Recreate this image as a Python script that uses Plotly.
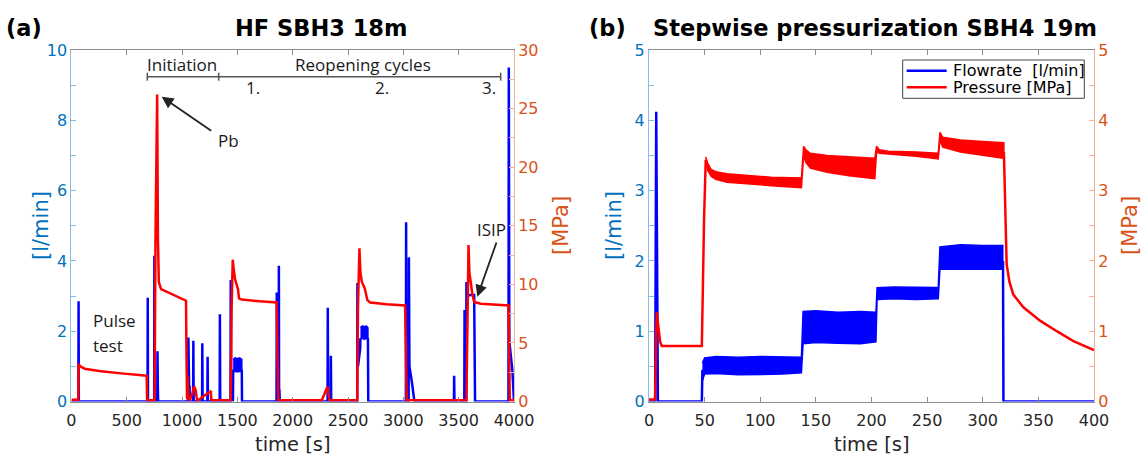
import plotly.graph_objects as go

W, H = 1144, 455

# ---------------- Panel (a): HF SBH3 18m ----------------
a_flow_t = [0, 63, 65, 67, 688, 690, 692, 748, 750, 753, 776, 778, 781, 784,
            1055, 1057, 1060, 1066, 1068, 1070, 1100, 1102, 1105, 1181, 1183, 1186,
            1229, 1231, 1234, 1340, 1342, 1345, 1438, 1440, 1443, 1460, 1462, None,
            1540, 1542, 1854, 1856, 1858, 1873, 1875, 1877, 1880, 1883,
            2315, 2317, 2320, 2343, 2345, 2348, 2583, 2585, 2590, 2610, 2612, None,
            2680, 2683, 3023, 3025, 3028, 3048, 3050, 3055, 3075, 3095, 3100,
            3457, 3459, 3462, 3551, 3553, 3556, 3568, 3570, 3575, 3590, 3640, 3648,
            3950, 3953, 3958, 3985, 3995, 4000]
a_flow_q = [0, 0, 2.85, 0, 0, 2.95, 0, 0, 4.15, 0, 0, 1.43, 0.4, 0,
            0, 1.82, 0, 0, 0.45, 0, 0, 1.73, 0, 0, 1.66, 0,
            0, 1.27, 0, 0, 2.48, 0, 0, 3.46, 0.9, 0, 0.9, None,
            0.9, 0, 0, 3.1, 0, 0, 3.86, 0, 0.35, 0,
            0, 2.67, 0, 0, 1.3, 0, 0, 3.37, 1.0, 1.5, 1.8, None,
            1.8, 0, 0, 5.1, 0, 0, 4.1, 1.0, 0.6, 0.2, 0,
            0, 0.73, 0, 0, 2.6, 0, 0, 3.4, 2.9, 3.03, 3.03, 0,
            0, 9.5, 1.7, 0.9, 0, 0]

# noisy flow plateaus (envelopes)
a_band1_t = [1462, 1480, 1500, 1520, 1540]
a_band1_hi = [1.20, 1.24, 1.22, 1.24, 1.20]
a_band1_lo = [0.85, 0.86, 0.84, 0.86, 0.85]
a_band2_t = [2612, 2630, 2650, 2665, 2680]
a_band2_hi = [2.10, 2.15, 2.13, 2.15, 2.10]
a_band2_lo = [1.78, 1.80, 1.77, 1.80, 1.78]

a_pres_t = [0, 62, 66, 80, 120, 250, 450, 680, 684,
            752, 760, 775, 782, 790, 810, 900, 1000, 1036, 1040, 1045, 1050, 1058,
            1070, 1090, 1110, 1125, 1135, 1160, 1200, 1260, 1265,
            1440, 1448, 1458, 1468, 1478, 1495, 1505, 1515, 1540, 1700, 1856, 1862, 1870,
            2263, 2290, 2314, 2332,
            2583, 2590, 2603, 2612, 2625, 2650, 2662, 2675, 2700, 2850, 3016, 3022, 3030,
            3570, 3578, 3589, 3597, 3610, 3625, 3640, 3700, 3951, 3957, 3962, 4000]
a_pres_p = [0.15, 0.15, 3.2, 3.0, 2.8, 2.6, 2.4, 2.2, 0.1,
            0.1, 14, 26.2, 14, 10.2, 9.6, 9.2, 8.8, 8.6, 4.0, 0.2, 2.2, 0.3,
            0.1, 0.6, 1.3, 0.9, 0.1, 0.2, 0.5, 0.9, 0.1,
            0.1, 8, 12.1, 11.2, 10.5, 9.9, 9.6, 8.8, 8.7, 8.55, 8.45, 4, 0.1,
            0.1, 0.7, 1.26, 0.1,
            0.1, 8, 13.07, 11, 10.2, 9.7, 9.3, 8.65, 8.45, 8.3, 8.2, 4, 0.1,
            0.1, 8, 13.35, 11, 10.1, 9.1, 8.5, 8.35, 8.2, 4, 0.1, 0.1]

a_xtick_vals = [0, 500, 1000, 1500, 2000, 2500, 3000, 3500, 4000]
a_xtick_text = ["0", "500", "1000", "1500", "2000", "2500", "3000", "3500", "4000"]
a_yl_vals = [0, 2, 4, 6, 8, 10]
a_yl_minor = [1, 3, 5, 7, 9]
a_yr_vals = [0, 5, 10, 15, 20, 25, 30]
a_yr_minor = [2.5, 7.5, 12.5, 17.5, 22.5, 27.5]

# ---------------- Panel (b): Stepwise pressurization SBH4 19m ----------------
b_flow_t = [0, 5.5, 6.5, 8, 47.5, 48, None, 318.2, 318.6, 400]
b_flow_q = [0, 0, 4.12, 0, 0, 0.45, None, 2.0, 0, 0]

b_fband_t = [48, 50, 60, 80, 100, 120, 137, 138.5, 150, 170, 190, 204,
             205, 220, 240, 260, 261.5, 280, 300, 318]
b_fband_hi = [0.55, 0.62, 0.64, 0.63, 0.64, 0.63, 0.63, 1.28, 1.29, 1.27, 1.28, 1.27,
              1.62, 1.63, 1.62, 1.62, 2.20, 2.23, 2.22, 2.22]
b_fband_lo = [0.30, 0.39, 0.40, 0.38, 0.39, 0.39, 0.41, 0.82, 0.84, 0.83, 0.82, 0.85,
              1.45, 1.46, 1.45, 1.46, 1.88, 1.89, 1.88, 1.88]

b_pres_t = [0, 5.5, 6.5, 7, 8.5, 10, 11.5, 47.5, 49.5, 51, None,
            319, 320.5, 321.5, 324, 327.5, 336.5, 351.5, 366.5, 381.5, 400]
b_pres_p = [0.03, 0.03, 1.0, 1.27, 1.05, 0.85, 0.79, 0.79, 2.6, 3.44, None,
            3.55, 2.6, 1.95, 1.7, 1.52, 1.34, 1.15, 1.0, 0.86, 0.73]

b_pband_t = [51, 53, 56, 60, 70, 90, 110, 137, 139, 141, 145, 160, 180, 203,
             204.5, 207, 215, 240, 260, 261.5, 264, 280, 300, 319]
b_pband_hi = [3.48, 3.38, 3.30, 3.27, 3.24, 3.21, 3.19, 3.18, 3.63, 3.58, 3.53, 3.50, 3.48, 3.46,
              3.63, 3.58, 3.56, 3.55, 3.53, 3.83, 3.76, 3.72, 3.70, 3.68]
b_pband_lo = [3.40, 3.28, 3.20, 3.16, 3.12, 3.09, 3.07, 3.04, 3.50, 3.40, 3.32, 3.26, 3.21, 3.17,
              3.55, 3.53, 3.52, 3.49, 3.45, 3.72, 3.62, 3.55, 3.50, 3.46]

b_xtick_vals = [0, 50, 100, 150, 200, 250, 300, 350, 400]
b_xtick_text = ["0", "50", "100", "150", "200", "250", "300", "350", "400"]
b_y_vals = [0, 1, 2, 3, 4, 5]
b_y_minor = [0.5, 1.5, 2.5, 3.5, 4.5]

legend_names = ["Flowrate  [l/min]", "Pressure [MPa]"]

# ---------------- styling ----------------
BLUE = "#0000FF"
RED = "#FF0000"
AX_BLUE = "#0072BD"
AX_RED = "#D95319"
LINE_BLUE = "#86bde3"
LINE_RED = "#f0b29a"
GRAY = "#8c8c8c"
TXT = "#262626"
FONT = "DejaVu Sans"
ANN_FONT = "Open Sans"


def px(x):
    return x / W


def py(y):
    return 1 - y / H


def band(t, lo, hi):
    return list(t) + list(t)[::-1], list(hi) + list(lo)[::-1]


fig = go.Figure()

# panel (a)
fig.add_trace(go.Scatter(x=a_flow_t, y=a_flow_q, mode="lines", line=dict(color=BLUE, width=2.5),
                         xaxis="x", yaxis="y", connectgaps=False, hoverinfo="skip"))
for bt, blo, bhi in [(a_band1_t, a_band1_lo, a_band1_hi), (a_band2_t, a_band2_lo, a_band2_hi)]:
    bx, by = band(bt, blo, bhi)
    fig.add_trace(go.Scatter(x=bx, y=by, mode="lines", fill="toself", fillcolor=BLUE,
                             line=dict(color=BLUE, width=1.5), xaxis="x", yaxis="y", hoverinfo="skip"))
fig.add_trace(go.Scatter(x=a_pres_t, y=a_pres_p, mode="lines", line=dict(color=RED, width=2.5),
                         xaxis="x", yaxis="y2", hoverinfo="skip"))

# panel (b)
fig.add_trace(go.Scatter(x=b_flow_t, y=b_flow_q, mode="lines", line=dict(color=BLUE, width=2.5),
                         xaxis="x2", yaxis="y3", connectgaps=False, hoverinfo="skip",
                         name=legend_names[0]))
bx, by = band(b_fband_t, b_fband_lo, b_fband_hi)
fig.add_trace(go.Scatter(x=bx, y=by, mode="lines", fill="toself", fillcolor=BLUE,
                         line=dict(color=BLUE, width=1.5), xaxis="x2", yaxis="y3", hoverinfo="skip"))
fig.add_trace(go.Scatter(x=b_pres_t, y=b_pres_p, mode="lines", line=dict(color=RED, width=2.5),
                         xaxis="x2", yaxis="y4", connectgaps=False, hoverinfo="skip",
                         name=legend_names[1]))
bx, by = band(b_pband_t, b_pband_lo, b_pband_hi)
fig.add_trace(go.Scatter(x=bx, y=by, mode="lines", fill="toself", fillcolor=RED,
                         line=dict(color=RED, width=1.5), xaxis="x2", yaxis="y4", hoverinfo="skip"))

ydom = [py(401.5), py(50)]
xdom_a = [px(71.4), px(514)]
xdom_b = [px(649), px(1094)]


def xax(dom, anchor, rng, vals, text):
    return dict(domain=dom, anchor=anchor, range=rng, tickmode="array", tickvals=vals, ticktext=text,
                ticks="inside", ticklen=5, tickwidth=1, tickcolor=GRAY, showline=True, linecolor=GRAY,
                linewidth=1, mirror="ticks", showgrid=False, zeroline=False, ticklabelstandoff=4,
                tickfont=dict(family=FONT, size=16, color=TXT), automargin=False)


def yax(dom, anchor, rng, vals, minor, side, lc, tc, overlay=None):
    d = dict(domain=dom, anchor=anchor, range=rng, tickmode="array", tickvals=vals,
             ticks="inside", ticklen=5, tickwidth=1, tickcolor=lc, showline=True, linecolor=lc,
             linewidth=1, showgrid=False, zeroline=False, side=side,
             tickfont=dict(family=FONT, size=16, color=tc), automargin=False,
             minor=dict(tickmode="array", tickvals=minor, ticks="inside", ticklen=5,
                        tickcolor=lc, showgrid=False))
    if overlay:
        d["overlaying"] = overlay
    return d


fig.update_layout(
    width=W, height=H, margin=dict(l=0, r=0, t=0, b=0), showlegend=False,
    paper_bgcolor="white", plot_bgcolor="white",
    xaxis=xax(xdom_a, "y", [0, 4000], a_xtick_vals, a_xtick_text),
    yaxis=yax(ydom, "x", [0, 10], a_yl_vals, a_yl_minor, "left", LINE_BLUE, AX_BLUE),
    yaxis2=yax(ydom, "x", [0, 30], a_yr_vals, a_yr_minor, "right", LINE_RED, AX_RED, overlay="y"),
    xaxis2=xax(xdom_b, "y3", [0, 400], b_xtick_vals, b_xtick_text),
    yaxis3=yax(ydom, "x2", [0, 5], b_y_vals, b_y_minor, "left", LINE_BLUE, AX_BLUE),
    yaxis4=yax(ydom, "x2", [0, 5], b_y_vals, b_y_minor, "right", LINE_RED, AX_RED, overlay="y3"),
)

ann = []
shapes = []


def text(x, y, s, size, color="#1a1a1a", family=FONT, bold=False, angle=0, xanchor="center"):
    ann.append(dict(x=px(x), y=py(y), xref="paper", yref="paper", text=(f"<b>{s}</b>" if bold else s),
                    showarrow=False, xanchor=xanchor, yanchor="middle", textangle=angle,
                    font=dict(family=family, size=size, color=color)))


# titles
text(24, 28, "(a)", 22.5, "#000", bold=True)
text(321, 28, "HF SBH3 18m", 22.5, "#000", bold=True)
text(607, 28, "(b)", 22.5, "#000", bold=True)
text(875, 28, "Stepwise pressurization SBH4 19m", 22.5, "#000", bold=True)

# axis titles
text(41, 226, "[l/min]", 21, AX_BLUE, angle=-90)
text(561, 226, "[MPa]", 21, AX_RED, angle=-90)
text(614, 226, "[l/min]", 21, AX_BLUE, angle=-90)
text(1130, 226, "[MPa]", 21, AX_RED, angle=-90)
text(292.7, 444, "time [s]", 19.5, TXT)
text(871.5, 444, "time [s]", 19.5, TXT)

# panel (a) notes
text(181.7, 65, "Initiation", 17, family=ANN_FONT)
text(363.3, 65, "Reopening cycles", 17, family=ANN_FONT)
text(253.3, 87.5, "1.", 17, family=ANN_FONT)
text(381.7, 87.5, "2.", 17, family=ANN_FONT)
text(489.3, 87.5, "3.", 17, family=ANN_FONT)
text(228, 140.5, "Pb", 17, family=ANN_FONT)
text(491, 229, "ISIP", 17, family=ANN_FONT)
text(91, 320, "Pulse", 17, family=ANN_FONT, xanchor="left")
text(91, 345, "test", 17, family=ANN_FONT, xanchor="left")

# arrows
ann.append(dict(x=px(161.7), y=py(96.7), xref="paper", yref="paper", text="", showarrow=True,
                ax=51, ay=35, arrowhead=2, arrowsize=1.3, arrowwidth=1.8, arrowcolor="#222", standoff=0))
ann.append(dict(x=px(477.3), y=py(296.7), xref="paper", yref="paper", text="", showarrow=True,
                ax=19.7, ay=-55.7, arrowhead=2, arrowsize=1.3, arrowwidth=1.8, arrowcolor="#222", standoff=0))

# bracket
BR = "#555555"
shapes.append(dict(type="line", xref="paper", yref="paper", x0=px(147.3), x1=px(500.7),
                   y0=py(76.7), y1=py(76.7), line=dict(color=BR, width=1.5)))
for bx_ in [147.3, 218.7, 500.7]:
    shapes.append(dict(type="line", xref="paper", yref="paper", x0=px(bx_), x1=px(bx_),
                       y0=py(72.7), y1=py(80.7), line=dict(color=BR, width=1.5)))

# legend box (panel b)
shapes.append(dict(type="rect", xref="paper", yref="paper", x0=px(902.7), x1=px(1084.3),
                   y0=py(98.3), y1=py(60), line=dict(color="#444", width=1), fillcolor="white"))
for yy, col in [(70.7, BLUE), (87.3, RED)]:
    shapes.append(dict(type="line", xref="paper", yref="paper", x0=px(906.7), x1=px(946.7),
                       y0=py(yy), y1=py(yy), line=dict(color=col, width=2.5)))
text(950.7, 70.7, legend_names[0], 16, "#000", xanchor="left")
text(950.7, 87.3, legend_names[1], 16, "#000", xanchor="left")

fig.update_layout(annotations=ann, shapes=shapes)
fig.write_html("out.html")
